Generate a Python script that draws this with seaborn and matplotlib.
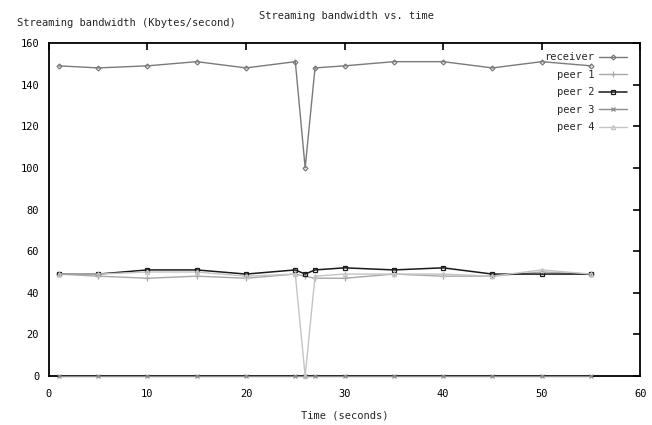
import pandas as pd
import matplotlib
matplotlib.use("Agg")
import matplotlib.pyplot as plt
import seaborn as sns

# ------------------------------------------------------------------
# data
# ------------------------------------------------------------------
tempo = [1, 5, 10, 15, 20, 25, 26, 27, 30, 35, 40, 45, 50, 55]

receiver = [149, 148, 149, 151, 148, 151, 100, 148, 149, 151, 151, 148, 151, 149]
peer_1 = [49, 48, 47, 48, 47, 49, 48, 47, 47, 49, 48, 48, 50, 49]
peer_2 = [49, 49, 51, 51, 49, 51, 49, 51, 52, 51, 52, 49, 49, 49]
peer_3 = [0, 0, 0, 0, 0, 0, 0, 0, 0, 0, 0, 0, 0, 0]
peer_4 = [49, 49, 50, 50, 48, 49, 0, 48, 49, 49, 49, 48, 51, 49]

nomes = ["receiver", "peer 1", "peer 2", "peer 3", "peer 4"]
series = [receiver, peer_1, peer_2, peer_3, peer_4]

# estilo de cada serie (cor, marcador, tamanho, espessura)
estilos = {
    "receiver": ("#7a7a7a", "D", 2.5, 1.0),
    "peer 1": ("#a8a8a8", "+", 4, 1.0),
    "peer 2": ("#1a1a1a", "s", 3.5, 1.1),
    "peer 3": ("#8c8c8c", "x", 3.5, 1.0),
    "peer 4": ("#c4c4c4", "^", 3, 1.0),
}

df = pd.concat(
    [pd.DataFrame({"Tempo": tempo, "Banda": v, "Serie": n}) for n, v in zip(nomes, series)],
    ignore_index=True,
)

# ------------------------------------------------------------------
# figure
# ------------------------------------------------------------------
sns.set_theme(style="white")
plt.rcParams["font.family"] = ["DejaVu Sans Mono"]
plt.rcParams["font.size"] = 7.5

fig = plt.figure(figsize=(6.52, 4.25), dpi=100)
ax = fig.add_axes([0.075, 0.115, 0.907, 0.784])

for n in nomes:
    cor, mk, ms, lw = estilos[n]
    sns.lineplot(
        data=df[df["Serie"] == n], x="Tempo", y="Banda",
        color=cor, marker=mk, markersize=ms, linewidth=lw,
        markerfacecolor="none" if mk in ("s", "^", "D") else cor,
        markeredgecolor=cor, markeredgewidth=0.9,
        label=n, ax=ax, clip_on=False, zorder=3,
    )

ax.set_xlim(0, 60)
ax.set_ylim(0, 160)
ax.set_xticks(range(0, 61, 10))
ax.set_yticks(range(0, 161, 20))
ax.tick_params(direction="in", length=5, width=1.2, top=True, right=True,
               labelsize=7.5, colors="black")
ax.tick_params(axis="x", pad=9)
ax.tick_params(axis="y", pad=7)
for s in ax.spines.values():
    s.set_color("black")
    s.set_linewidth(1.3)
    s.set_zorder(2)

ax.set_xlabel("")
ax.set_ylabel("")
fig.text(0.532, 0.963, "Streaming bandwidth vs. time", ha="center", va="center", fontsize=7.5)
fig.text(0.026, 0.945, "Streaming bandwidth (Kbytes/second)", ha="left", va="center", fontsize=7.5)
fig.text(0.529, 0.023, "Time (seconds)", ha="center", va="center", fontsize=7.5)

leg = ax.legend(loc="upper right", bbox_to_anchor=(0.994, 1.0), frameon=False,
                markerfirst=False, fontsize=7.5, handlelength=2.7,
                labelspacing=0.72, borderaxespad=0.5, handletextpad=0.5)
# alinha os textos da legenda a direita, como no gnuplot
for col in leg._legend_handle_box.get_children():
    col.align = "right"

fig.savefig("out.png", dpi=100)
